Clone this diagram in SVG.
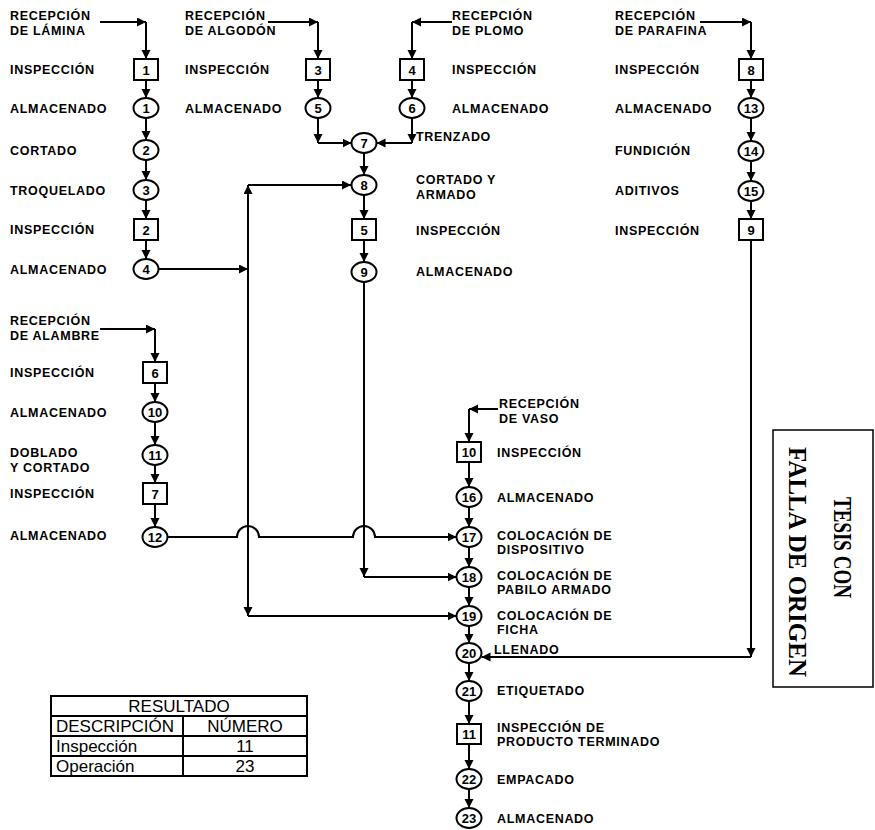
<svg xmlns="http://www.w3.org/2000/svg" width="875" height="830" viewBox="0 0 875 830">
<style>
.lb{font-family:"Liberation Sans",Arial,sans-serif;font-weight:bold;font-size:12.5px;letter-spacing:0.7px;fill:#000}
.n{font-family:"Liberation Sans",Arial,sans-serif;font-weight:bold;font-size:13px;text-anchor:middle;fill:#000}
.op{fill:#fff;stroke:#000;stroke-width:2}
.c{fill:none;stroke:#000;stroke-width:2}
.t{font-family:"Liberation Sans",Arial,sans-serif;font-size:17px;fill:#000}
.tm{text-anchor:middle}
.tb{fill:none;stroke:#000;stroke-width:2}
.st{font-family:"Liberation Serif","DejaVu Serif",serif;font-weight:bold;font-size:26px;fill:#000}
</style>
<defs>
<marker id="a" markerUnits="userSpaceOnUse" markerWidth="10" markerHeight="10" refX="9" refY="4.5" orient="auto"><path d="M0,0 L9,4.5 L0,9 z" fill="#000"/></marker>
</defs>
<rect width="875" height="830" fill="#fff"/>

<g id="connectors" class="c" marker-end="url(#a)">
<path d="M100 22 H146"/><path d="M146 22 V59"/>
<path d="M146 80 V98"/><path d="M146 118 V140"/><path d="M146 160 V180"/><path d="M146 200 V219"/><path d="M146 240 V259"/>
<path d="M158.5 269 H248"/>
<path d="M248 269 V185"/><path d="M248 185 H351"/>
<path d="M248 269 V616"/><path d="M248 616 H456.5"/>
<path d="M268 22 H318"/><path d="M318 22 V59"/>
<path d="M318 80 V98"/><path d="M318 118 V143"/><path d="M318 143 H351.5"/>
<path d="M452 22 H412"/><path d="M412 22 V59"/>
<path d="M412 80 V98"/><path d="M412 118 V143"/><path d="M412 143 H376.5"/>
<path d="M364 153 V175"/><path d="M364 195 V219"/><path d="M364 240 V262"/>
<path d="M364 282 V577"/><path d="M364 577 H456.5"/>
<path d="M700 22 H751"/><path d="M751 22 V59"/>
<path d="M751 80 V98"/><path d="M751 118 V141"/><path d="M751 161 V181"/><path d="M751 201 V219"/>
<path d="M751 240 V657"/><path d="M751 657 H481.5"/>
<path d="M100 329 H155"/><path d="M155 329 V362"/>
<path d="M155 383 V402"/><path d="M155 422 V445"/><path d="M155 465 V483"/><path d="M155 504 V527"/>
<path d="M167.5 537 H237 A11 11 0 0 1 259 537 H353 A11 11 0 0 1 375 537 H456.5"/>
<path d="M498 409 H469"/><path d="M469 409 V442"/>
<path d="M469 462 V487"/><path d="M469 507 V527"/><path d="M469 547 V567"/><path d="M469 587 V606"/>
<path d="M469 626 V643"/><path d="M469 663 V681"/><path d="M469 701 V724"/><path d="M469 744 V769"/><path d="M469 789 V808"/>
</g>

<g id="rec-lamina"><text class="lb" x="10" y="20">RECEPCIÓN</text><text class="lb" x="10" y="34.5">DE LÁMINA</text></g>
<g id="insp1"><rect class="op" x="134" y="59" width="24" height="21"/><text class="n" x="146" y="74.5">1</text><text class="lb" x="10" y="74">INSPECCIÓN</text></g>
<g id="op1"><ellipse class="op" cx="146" cy="108" rx="12.5" ry="10"/><text class="n" x="146" y="112.5">1</text><text class="lb" x="10" y="113">ALMACENADO</text></g>
<g id="op2"><ellipse class="op" cx="146" cy="150" rx="12.5" ry="10"/><text class="n" x="146" y="154.5">2</text><text class="lb" x="10" y="155">CORTADO</text></g>
<g id="op3"><ellipse class="op" cx="146" cy="190" rx="12.5" ry="10"/><text class="n" x="146" y="194.5">3</text><text class="lb" x="10" y="195">TROQUELADO</text></g>
<g id="insp2"><rect class="op" x="134" y="219" width="24" height="21"/><text class="n" x="146" y="234.5">2</text><text class="lb" x="10" y="234">INSPECCIÓN</text></g>
<g id="op4"><ellipse class="op" cx="146" cy="269" rx="12.5" ry="10"/><text class="n" x="146" y="273.5">4</text><text class="lb" x="10" y="274">ALMACENADO</text></g>

<g id="rec-algodon"><text class="lb" x="185" y="20">RECEPCIÓN</text><text class="lb" x="185" y="34.5">DE ALGODÓN</text></g>
<g id="insp3"><rect class="op" x="306" y="59" width="24" height="21"/><text class="n" x="318" y="74.5">3</text><text class="lb" x="185" y="74">INSPECCIÓN</text></g>
<g id="op5"><ellipse class="op" cx="318" cy="108" rx="12.5" ry="10"/><text class="n" x="318" y="112.5">5</text><text class="lb" x="185" y="113">ALMACENADO</text></g>

<g id="rec-plomo"><text class="lb" x="452" y="20">RECEPCIÓN</text><text class="lb" x="452" y="34.5">DE PLOMO</text></g>
<g id="insp4"><rect class="op" x="400" y="59" width="24" height="21"/><text class="n" x="412" y="74.5">4</text><text class="lb" x="452" y="74">INSPECCIÓN</text></g>
<g id="op6"><ellipse class="op" cx="412" cy="108" rx="12.5" ry="10"/><text class="n" x="412" y="112.5">6</text><text class="lb" x="452" y="113">ALMACENADO</text></g>

<g id="op7"><ellipse class="op" cx="364" cy="143" rx="12.5" ry="10"/><text class="n" x="364" y="147.5">7</text><text class="lb" x="416" y="141">TRENZADO</text></g>
<g id="op8"><ellipse class="op" cx="364" cy="185" rx="12.5" ry="10"/><text class="n" x="364" y="189.5">8</text><text class="lb" x="416" y="184">CORTADO Y</text><text class="lb" x="416" y="198.5">ARMADO</text></g>
<g id="insp5"><rect class="op" x="352" y="219" width="24" height="21"/><text class="n" x="364" y="234.5">5</text><text class="lb" x="416" y="235">INSPECCIÓN</text></g>
<g id="op9"><ellipse class="op" cx="364" cy="272" rx="12.5" ry="10"/><text class="n" x="364" y="276.5">9</text><text class="lb" x="416" y="276">ALMACENADO</text></g>

<g id="rec-parafina"><text class="lb" x="615" y="20">RECEPCIÓN</text><text class="lb" x="615" y="34.5">DE PARAFINA</text></g>
<g id="insp8"><rect class="op" x="739" y="59" width="24" height="21"/><text class="n" x="751" y="74.5">8</text><text class="lb" x="615" y="74">INSPECCIÓN</text></g>
<g id="op13"><ellipse class="op" cx="751" cy="108" rx="12.5" ry="10"/><text class="n" x="751" y="112.5">13</text><text class="lb" x="615" y="113">ALMACENADO</text></g>
<g id="op14"><ellipse class="op" cx="751" cy="151" rx="12.5" ry="10"/><text class="n" x="751" y="155.5">14</text><text class="lb" x="615" y="155">FUNDICIÓN</text></g>
<g id="op15"><ellipse class="op" cx="751" cy="191" rx="12.5" ry="10"/><text class="n" x="751" y="195.5">15</text><text class="lb" x="615" y="195">ADITIVOS</text></g>
<g id="insp9"><rect class="op" x="739" y="219" width="24" height="21"/><text class="n" x="751" y="234.5">9</text><text class="lb" x="615" y="235">INSPECCIÓN</text></g>

<g id="rec-alambre"><text class="lb" x="10" y="325">RECEPCIÓN</text><text class="lb" x="10" y="339.5">DE ALAMBRE</text></g>
<g id="insp6"><rect class="op" x="143" y="362" width="24" height="21"/><text class="n" x="155" y="377.5">6</text><text class="lb" x="10" y="377">INSPECCIÓN</text></g>
<g id="op10"><ellipse class="op" cx="155" cy="412" rx="12.5" ry="10"/><text class="n" x="155" y="416.5">10</text><text class="lb" x="10" y="417">ALMACENADO</text></g>
<g id="op11"><ellipse class="op" cx="155" cy="455" rx="12.5" ry="10"/><text class="n" x="155" y="459.5">11</text><text class="lb" x="10" y="457">DOBLADO</text><text class="lb" x="10" y="471.5">Y CORTADO</text></g>
<g id="insp7"><rect class="op" x="143" y="483" width="24" height="21"/><text class="n" x="155" y="498.5">7</text><text class="lb" x="10" y="498">INSPECCIÓN</text></g>
<g id="op12"><ellipse class="op" cx="155" cy="537" rx="12.5" ry="10"/><text class="n" x="155" y="541.5">12</text><text class="lb" x="10" y="540">ALMACENADO</text></g>

<g id="rec-vaso"><text class="lb" x="499" y="408">RECEPCIÓN</text><text class="lb" x="499" y="422.5">DE VASO</text></g>
<g id="insp10"><rect class="op" x="457" y="442" width="24" height="20"/><text class="n" x="469" y="456.5">10</text><text class="lb" x="497" y="457">INSPECCIÓN</text></g>
<g id="op16"><ellipse class="op" cx="469" cy="497" rx="12.5" ry="10"/><text class="n" x="469" y="501.5">16</text><text class="lb" x="497" y="502">ALMACENADO</text></g>
<g id="op17"><ellipse class="op" cx="469" cy="537" rx="12.5" ry="10"/><text class="n" x="469" y="541.5">17</text><text class="lb" x="497" y="539.5">COLOCACIÓN DE</text><text class="lb" x="497" y="554">DISPOSITIVO</text></g>
<g id="op18"><ellipse class="op" cx="469" cy="577" rx="12.5" ry="10"/><text class="n" x="469" y="581.5">18</text><text class="lb" x="497" y="579.5">COLOCACIÓN DE</text><text class="lb" x="497" y="594">PABILO ARMADO</text></g>
<g id="op19"><ellipse class="op" cx="469" cy="616" rx="12.5" ry="10"/><text class="n" x="469" y="620.5">19</text><text class="lb" x="497" y="619.5">COLOCACIÓN DE</text><text class="lb" x="497" y="634">FICHA</text></g>
<g id="op20"><ellipse class="op" cx="469" cy="653" rx="12.5" ry="10"/><text class="n" x="469" y="657.5">20</text><text class="lb" x="494" y="654">LLENADO</text></g>
<g id="op21"><ellipse class="op" cx="469" cy="691" rx="12.5" ry="10"/><text class="n" x="469" y="695.5">21</text><text class="lb" x="497" y="695">ETIQUETADO</text></g>
<g id="insp11"><rect class="op" x="457" y="724" width="24" height="20"/><text class="n" x="469" y="738.5">11</text><text class="lb" x="497" y="731.5">INSPECCIÓN DE</text><text class="lb" x="497" y="746">PRODUCTO TERMINADO</text></g>
<g id="op22"><ellipse class="op" cx="469" cy="779" rx="12.5" ry="10"/><text class="n" x="469" y="783.5">22</text><text class="lb" x="497" y="784">EMPACADO</text></g>
<g id="op23"><ellipse class="op" cx="469" cy="818" rx="12.5" ry="10"/><text class="n" x="469" y="822.5">23</text><text class="lb" x="497" y="823">ALMACENADO</text></g>

<g id="tabla">
<rect class="tb" x="51" y="696" width="256" height="80"/>
<path class="tb" d="M51 716 H307 M51 736 H307 M51 756 H307 M183 716 V776"/>
<text class="t tm" x="179" y="712">RESULTADO</text>
<text class="t" x="56" y="732">DESCRIPCIÓN</text><text class="t tm" x="245" y="732">NÚMERO</text>
<text class="t" x="56" y="752">Inspección</text><text class="t tm" x="245" y="752">11</text>
<text class="t" x="56" y="772">Operación</text><text class="t tm" x="245" y="772">23</text>
</g>

<g id="sello">
<rect x="773" y="430" width="100" height="257" fill="none" stroke="#000" stroke-width="1.5"/>
<text class="st" transform="translate(834,497) rotate(90)" textLength="101" lengthAdjust="spacingAndGlyphs">TESIS CON</text>
<text class="st" transform="translate(789,447) rotate(90)" textLength="230" lengthAdjust="spacingAndGlyphs">FALLA DE ORIGEN</text>
</g>
</svg>
